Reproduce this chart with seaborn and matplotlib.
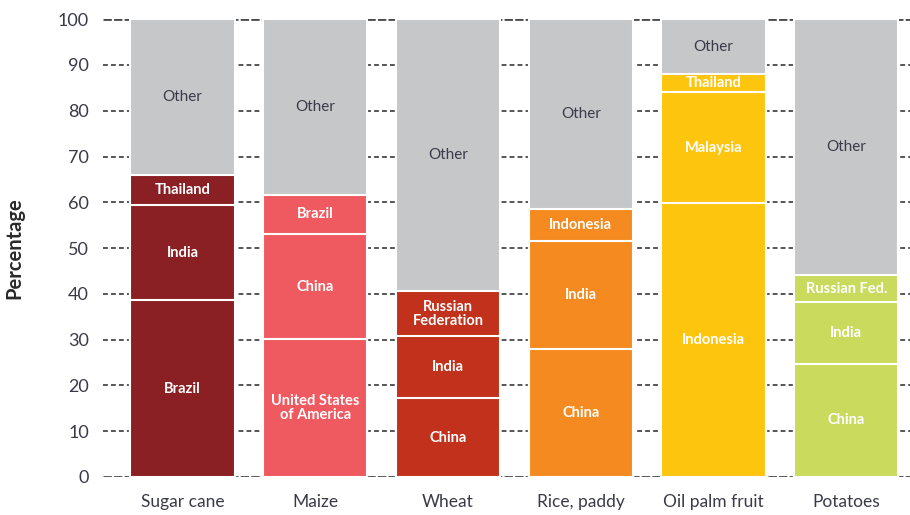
import matplotlib
matplotlib.use("Agg")
import matplotlib.pyplot as plt
import seaborn as sns
import pandas as pd

# Share of world production held by the leading producers of each crop
crops = ["Sugar cane", "Maize", "Wheat", "Rice, paddy", "Oil palm fruit", "Potatoes"]
first_share = [38.6, 30.1, 17.2, 27.9, 59.8, 24.7]
second_share = [20.8, 23.0, 13.6, 23.6, 24.3, 13.5]
third_share = [6.5, 8.5, 9.8, 7.0, 3.9, 5.9]

first_names = ["Brazil", "United States\nof America", "China", "China", "Indonesia", "China"]
second_names = ["India", "China", "India", "India", "Malaysia", "India"]
third_names = ["Thailand", "Brazil", "Russian\nFederation", "Indonesia", "Thailand", "Russian Fed."]

crop_colors = ["#8a1f24", "#ef5a61", "#c1311b", "#f48a20", "#fec50f", "#c9da5c"]
other_color = "#c6c7c9"

yticks = list(range(0, 101, 10))

sns.set_theme(style="white")
plt.rcParams["font.family"] = ["Lato", "DejaVu Sans"]

df = pd.DataFrame({
    "crop": crops,
    "first": first_share,
    "second": second_share,
    "third": third_share,
})
df["top1"] = df["first"]
df["top2"] = df["top1"] + df["second"]
df["top3"] = df["top2"] + df["third"]
df["total"] = 100.0

fig = plt.figure(figsize=(9.1, 5.15), dpi=100)
ax = fig.add_axes([0.113, 0.0738, 0.887, 0.889])

# Dashed reference lines behind the bars
for v in yticks:
    if v in (0, 100):
        ax.axhline(v, color="#4a4a4a", lw=2.0, dashes=(3, 0.8), zorder=0)
    else:
        ax.axhline(v, color="#555555", lw=1.4, dashes=(2.5, 1.6), zorder=0)

width = 0.785
# Cumulative layers, tallest first, so each lower segment sits over the next
sns.barplot(data=df, x="crop", y="total", color=other_color, width=width,
            saturation=1, edgecolor="white", linewidth=1.5, ax=ax, zorder=2)
for col in ["top3", "top2", "top1"]:
    sns.barplot(data=df, x="crop", y=col, hue="crop", palette=crop_colors,
                width=width, saturation=1, edgecolor="white", linewidth=1.5,
                legend=False, ax=ax, zorder=2)

# Segment labels
for i in range(len(crops)):
    segs = [
        (0, first_share[i], first_names[i]),
        (first_share[i], second_share[i], second_names[i]),
        (first_share[i] + second_share[i], third_share[i], third_names[i]),
    ]
    for base, h, name in segs:
        ax.text(i, base + h / 2, name, ha="center", va="center", color="white",
                fontsize=10.5, fontweight="bold", linespacing=1.0, zorder=5)
    top = first_share[i] + second_share[i] + third_share[i]
    ax.text(i, top + (100 - top) / 2, "Other", ha="center",
            va="center", color="#3a3a48", fontsize=11, zorder=5)

ax.set_xlim(-0.6, 5.48)
ax.set_ylim(0, 100)
ax.set_yticks(yticks)
ax.set_yticklabels([str(v) for v in yticks], fontsize=13, color="#3a3a48")
ax.tick_params(axis="x", labelsize=12.5, colors="#3a3a48", pad=12, length=0)
ax.tick_params(axis="y", pad=10, length=0)
ax.set_xlabel("")
ax.set_ylabel("Percentage", fontsize=14.5, fontweight="bold", color="#2a2a2a", labelpad=24)
for s in ax.spines.values():
    s.set_visible(False)

fig.savefig("out.png", dpi=100)
